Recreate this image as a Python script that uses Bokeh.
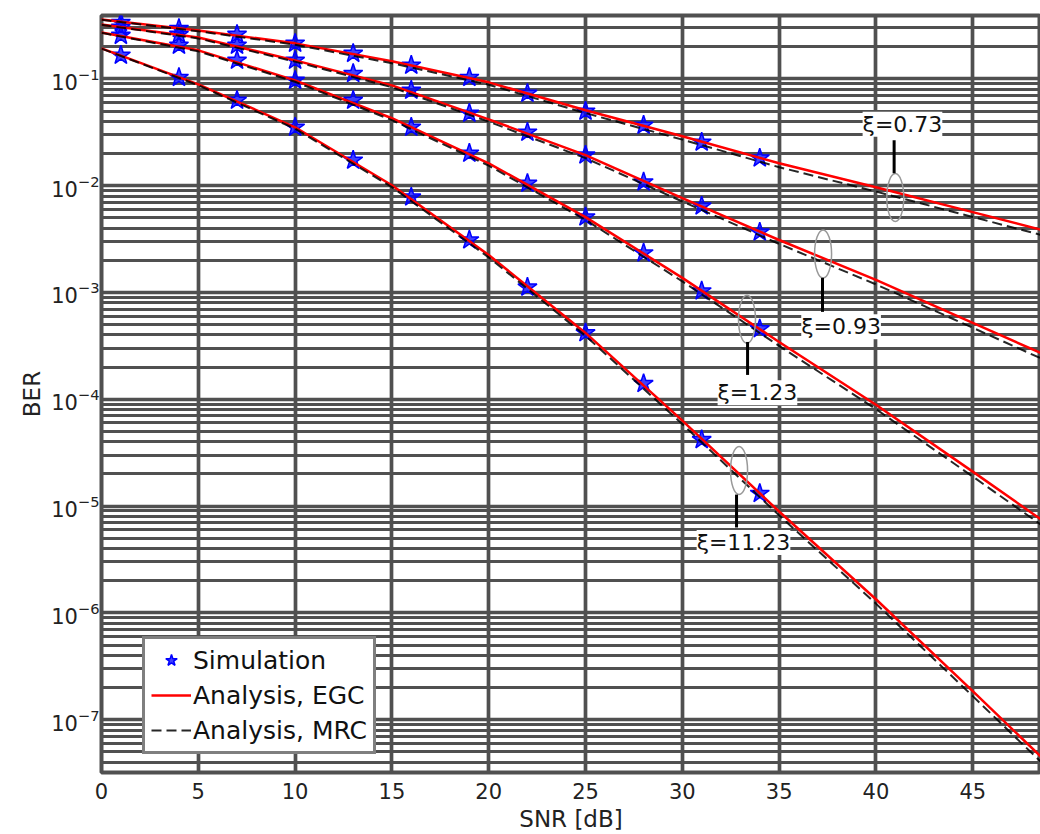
from bokeh.plotting import figure
from bokeh.models import Range1d, FixedTicker, Legend, LegendItem, Label
from bokeh.embed import file_html
from bokeh.resources import INLINE

# ---------------- data ----------------
snr_sim = [1, 4, 7, 10, 13, 16, 19, 22, 25, 28, 31, 34]
sim_073 = [0.337, 0.296, 0.261, 0.215, 0.173, 0.134, 0.103, 0.0731, 0.0497, 0.0367, 0.0255, 0.0181]
sim_093 = [0.303, 0.261, 0.206, 0.149, 0.112, 0.0781, 0.0476, 0.0316, 0.0193, 0.0108, 0.00643, 0.00367]
sim_123 = [0.255, 0.206, 0.149, 0.0968, 0.0629, 0.0352, 0.0201, 0.0105, 0.00508, 0.00234, 0.00103, 4.56e-4]
sim_1123 = [0.166, 0.103, 0.0629, 0.0352, 0.0173, 0.00781, 0.00310, 0.00112, 4.18e-4, 1.40e-4, 4.18e-5, 1.31e-5]

snr_line = [0, 5, 10, 15, 20, 25, 30, 35, 40, 45, 50]
egc_073 = [0.360, 0.284, 0.215, 0.146, 0.0928, 0.0508, 0.0290, 0.0162, 0.00968, 0.00565, 0.00330]
egc_093 = [0.323, 0.244, 0.149, 0.0869, 0.0418, 0.0193, 0.00764, 0.00310, 0.00131, 5.19e-4, 2.06e-4]
egc_123 = [0.272, 0.185, 0.0968, 0.0428, 0.0162, 0.00508, 0.00137, 3.44e-4, 8.89e-5, 2.10e-5, 4.87e-6]
egc_1123 = [0.193, 0.0889, 0.0352, 0.0101, 0.00224, 4.18e-4, 6.30e-5, 8.89e-6, 1.34e-6, 1.85e-7, 2.49e-8]

mrc_073 = [0.358, 0.279, 0.209, 0.140, 0.0882, 0.0478, 0.0270, 0.0149, 0.00881, 0.00509, 0.00294]
mrc_093 = [0.321, 0.239, 0.145, 0.0834, 0.0397, 0.0181, 0.00711, 0.00285, 0.00119, 4.67e-4, 1.83e-4]
mrc_123 = [0.270, 0.181, 0.0939, 0.0411, 0.0154, 0.00478, 0.00127, 3.16e-4, 8.09e-5, 1.89e-5, 4.33e-6]
mrc_1123 = [0.192, 0.0871, 0.0341, 0.0097, 0.00213, 3.93e-4, 5.86e-5, 8.18e-6, 1.22e-6, 1.66e-7, 2.22e-8]

xi_labels = ["ξ=0.73", "ξ=0.93", "ξ=1.23", "ξ=11.23"]
xi_ell_x = [41.0, 37.27, 33.34, 32.93]
xi_ell_y = [7.73e-3, 2.29e-3, 5.60e-4, 2.15e-5]
xi_lead_x = [40.94, 37.24, 33.37, 32.8]
xi_lead_y0 = [0.0266, 1.37e-3, 3.44e-4, 1.28e-5]
xi_lead_y1 = [0.0131, 6.58e-4, 1.69e-4, 6.30e-6]
xi_text_x = [41.37, 38.2, 33.88, 33.16]
xi_text_y = [0.0376, 4.77e-4, 1.15e-4, 4.56e-6]

x_ticks = [0, 5, 10, 15, 20, 25, 30, 35, 40, 45]
y_major = [1e-7, 1e-6, 1e-5, 1e-4, 1e-3, 1e-2, 1e-1]

FONT = "DejaVu Sans"
GRID = "#505050"

p = figure(width=1040, height=834, y_axis_type="log",
           x_range=Range1d(0, 48.5), y_range=Range1d(3.2e-8, 0.392),
           output_backend="svg", toolbar_location=None,
           min_border_left=101, min_border_right=0, min_border_top=15, min_border_bottom=61)

y_minor = [m * d for d in [1e-8, 1e-7, 1e-6, 1e-5, 1e-4, 1e-3, 1e-2, 1e-1] for m in range(2, 10)]
yt = FixedTicker(ticks=y_major, minor_ticks=y_minor)
xt = FixedTicker(ticks=x_ticks)
p.yaxis.ticker = yt
p.ygrid.ticker = yt
p.xaxis.ticker = xt
p.xgrid.ticker = xt

p.grid.grid_line_color = GRID
p.grid.grid_line_width = 3.7
p.ygrid.minor_grid_line_color = GRID
p.ygrid.minor_grid_line_width = 3.2

p.outline_line_color = GRID
p.outline_line_width = 4
p.axis.axis_line_color = None
p.axis.major_tick_line_color = None
p.axis.minor_tick_line_color = None
p.axis.major_tick_out = 0
p.axis.minor_tick_out = 0
p.axis.major_label_text_font = FONT
p.axis.major_label_text_font_size = "21px"
p.axis.major_label_text_color = "#222222"
p.axis.axis_label_text_font = FONT
p.axis.axis_label_text_font_size = "23px"
p.axis.axis_label_text_font_style = "normal"
p.axis.axis_label_text_color = "#222222"
p.xaxis.axis_label = "SNR [dB]"
p.yaxis.axis_label = "BER"
p.xaxis.major_label_standoff = 10
p.xaxis.axis_label_standoff = 4
p.yaxis.major_label_standoff = 2
p.yaxis.axis_label_standoff = 3

# simulation markers
sim_sets = [sim_073, sim_093, sim_123, sim_1123]
star_r = []
for s in sim_sets:
    r = p.scatter(snr_sim, s, marker="star", size=20, fill_color="#0000ff", fill_alpha=0.75,
                  line_color="#0000ff", line_width=1.5)
    star_r.append(r)

egc_r = []
for s in [egc_073, egc_093, egc_123, egc_1123]:
    egc_r.append(p.line(snr_line, s, line_color="#ff0000", line_width=2.5))

mrc_r = []
for s in [mrc_073, mrc_093, mrc_123, mrc_1123]:
    mrc_r.append(p.line(snr_line, s, line_color="black", line_width=2, line_dash="10 5", line_alpha=0.85))

# annotations
p.ellipse(x=xi_ell_x, y=xi_ell_y, width=17, height=48, width_units="screen", height_units="screen",
          fill_color=None, line_color="#999999", line_width=1.5)
p.segment(x0=xi_lead_x, y0=xi_lead_y0, x1=xi_lead_x, y1=xi_lead_y1, line_color="black", line_width=3)
for t, tx, ty in zip(xi_labels, xi_text_x, xi_text_y):
    p.add_layout(Label(x=tx, y=ty, text=t, text_font=FONT, text_font_size="22px",
                       text_align="center", text_baseline="middle", text_color="#111111",
                       background_fill_color="white", background_fill_alpha=1.0))

legend = Legend(items=[LegendItem(label="Simulation", renderers=[star_r[0]]),
                       LegendItem(label="Analysis, EGC", renderers=[egc_r[0]]),
                       LegendItem(label="Analysis, MRC", renderers=[mrc_r[0]])],
                location=(41, 18))
legend.label_text_font = FONT
legend.label_text_font_size = "25px"
legend.label_text_color = "#111111"
legend.border_line_color = "black"
legend.border_line_width = 3
legend.padding = 6
legend.spacing = 5
legend.margin = 0
legend.glyph_width = 40
legend.glyph_height = 30
legend.label_height = 30
legend.label_standoff = 2
legend.background_fill_alpha = 1.0
p.add_layout(legend)

open("out.html", "w").write(file_html(p, INLINE))
